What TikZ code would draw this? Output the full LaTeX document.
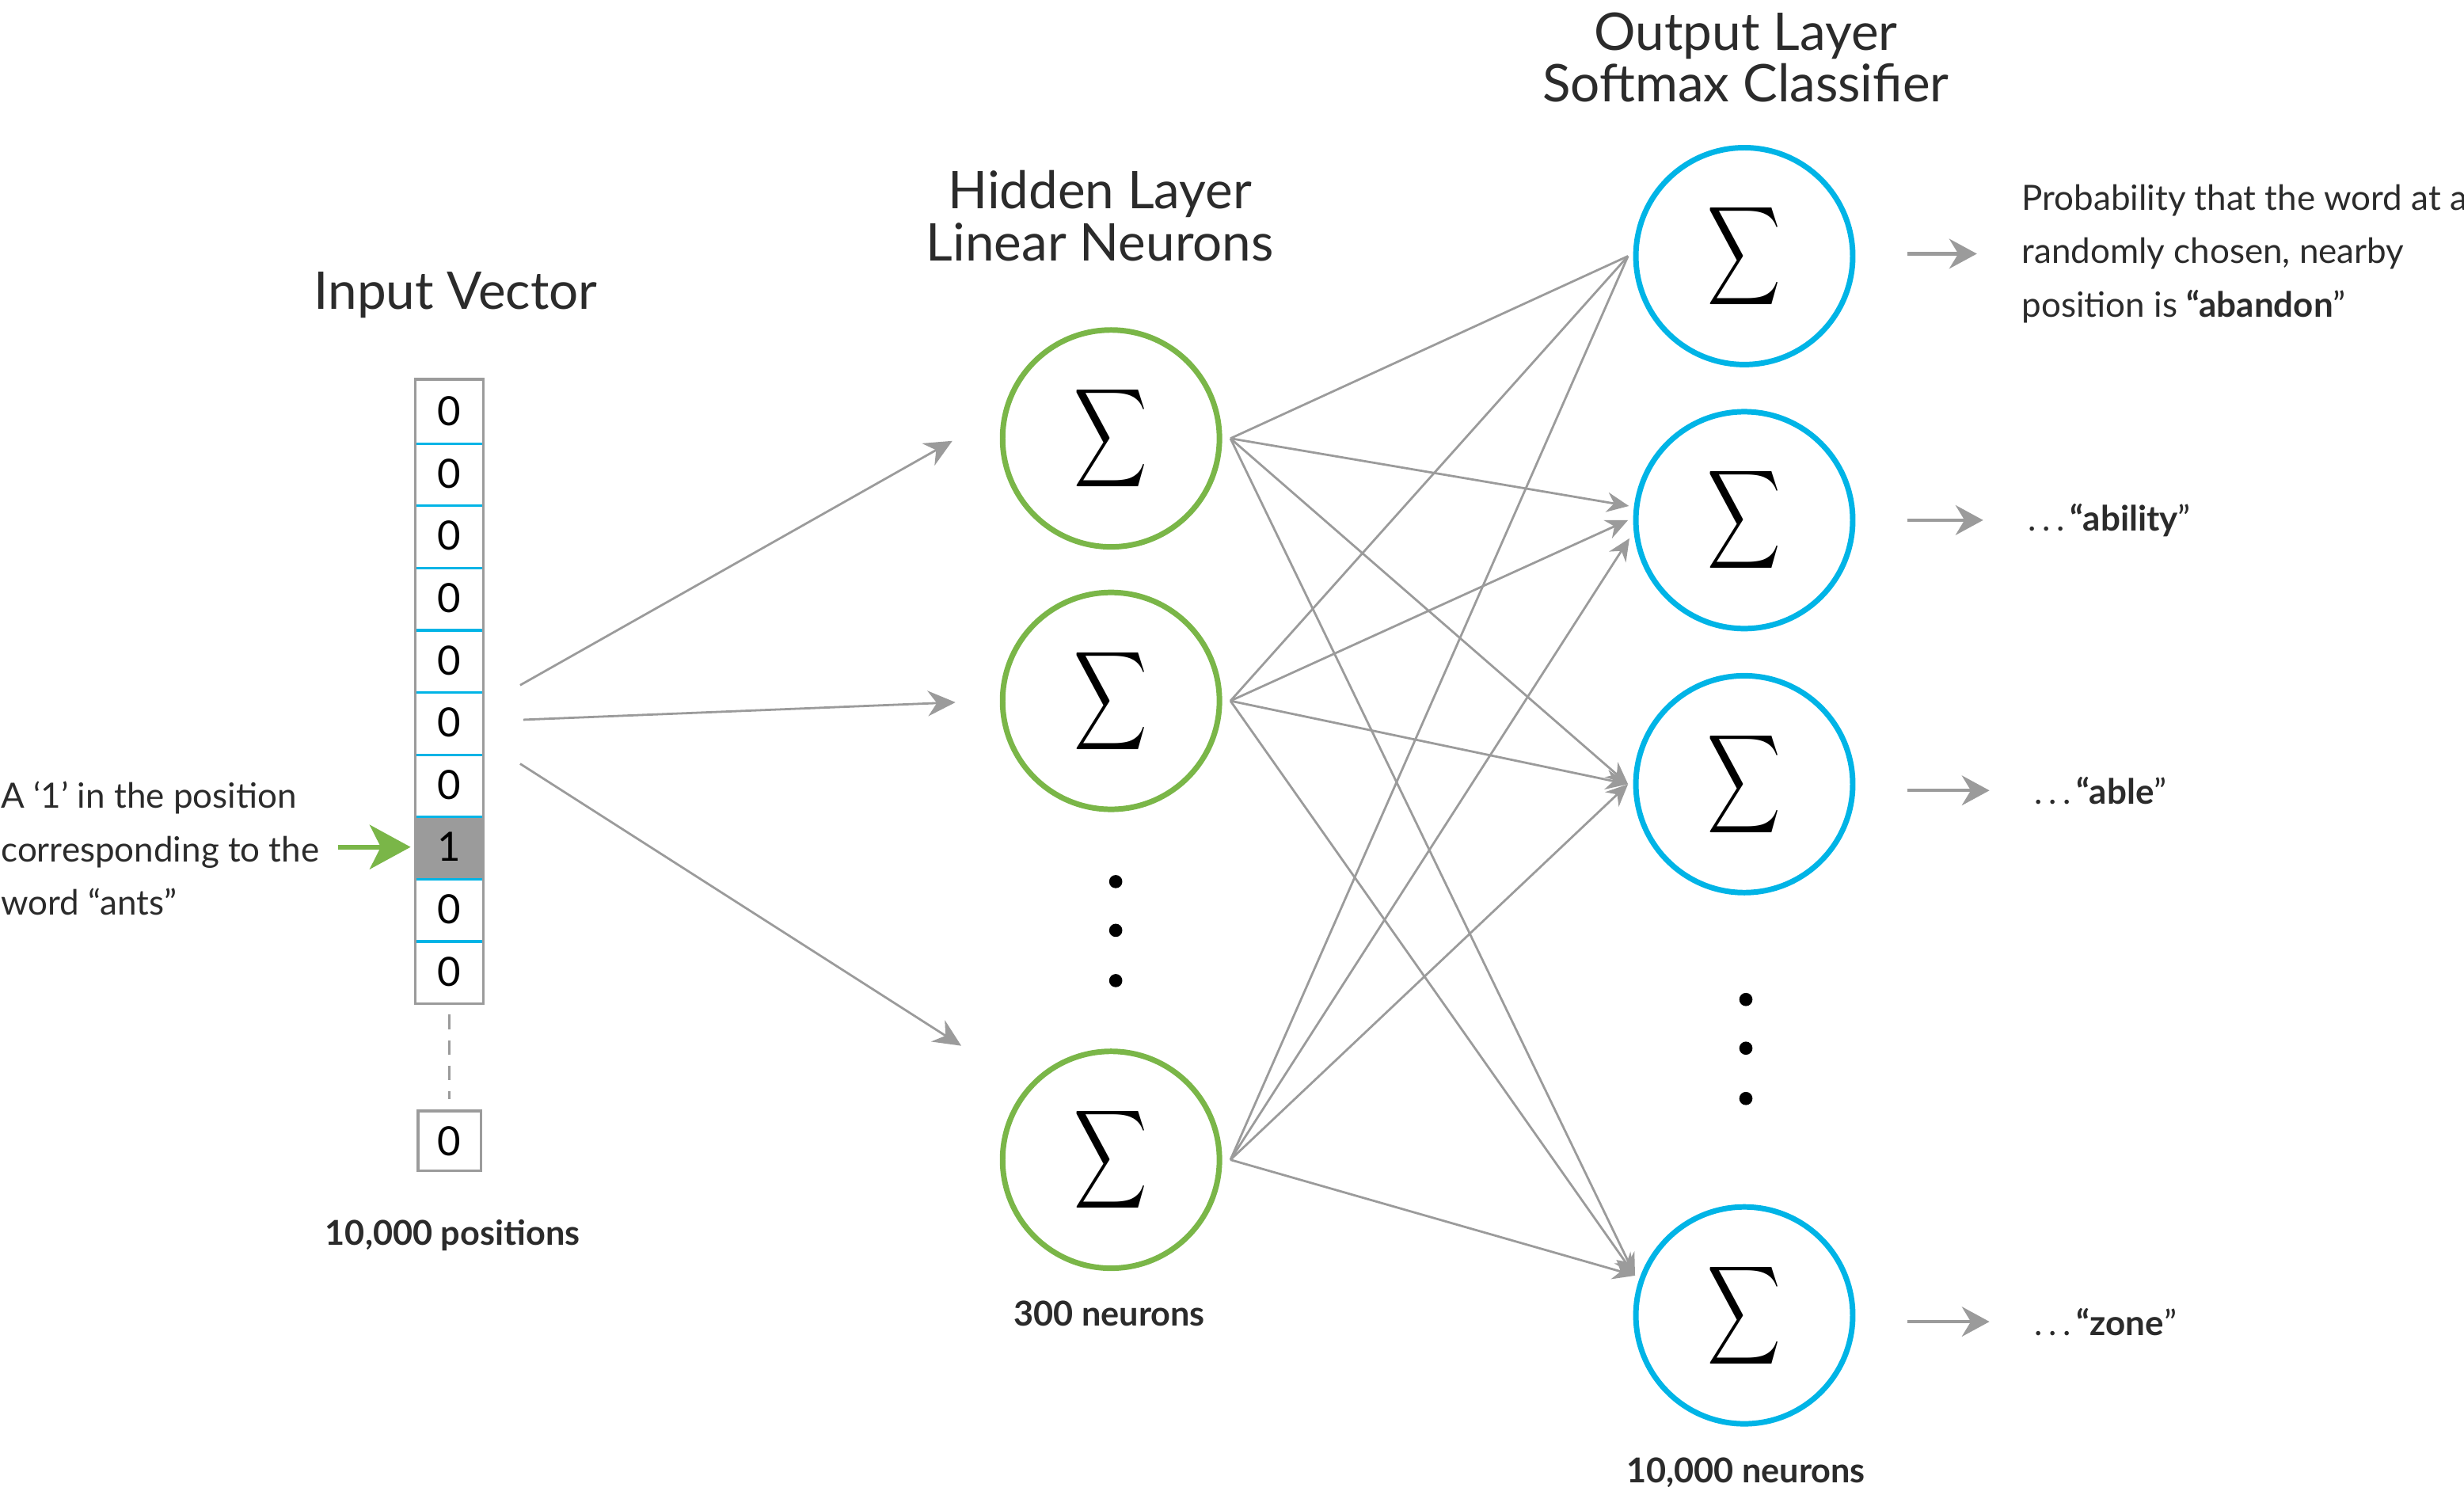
\documentclass[tikz,border=0pt]{standalone}
\usepackage{fontspec}
\setmainfont{Lato}
\usepackage{graphicx}
\usetikzlibrary{arrows.meta, positioning}
\definecolor{hiddengreen}{HTML}{7AB648}
\definecolor{outblue}{HTML}{00B4E6}
\definecolor{linegray}{HTML}{9B9B9B}
\definecolor{textgray}{HTML}{2B2B2B}
\newcommand{\sig}{\scalebox{0.92}[1.25]{$\displaystyle\sum$}}

\begin{document}
\begin{tikzpicture}[>={Stealth[length=4pt,width=3.6pt]},
    cell/.style={rectangle,minimum width=0.42cm,minimum height=0.396cm,inner sep=0pt,
        font=\fontsize{7.3}{7.3}\selectfont},
    hidden/.style={circle,draw=hiddengreen,line width=1pt,minimum size=1.38cm,
        inner sep=0pt,outer sep=0.07cm},
    output/.style={circle,draw=outblue,line width=1pt,minimum size=1.38cm,
        inner sep=0pt,outer sep=0.05cm},
    title/.style={align=center,text=textgray,font=\fontsize{9.4}{9.4}\selectfont},
    note/.style={align=left,text=textgray,inner sep=0pt,font=\fontsize{6.3}{9.7}\selectfont},
    count/.style={text=textgray,font=\fontsize{6.2}{6.2}\selectfont\bfseries},
    wire/.style={draw=linegray,line width=0.4pt},
    outarr/.style={draw=linegray,line width=0.6pt,-{Stealth[length=5pt,width=5.4pt]},
        shorten <=0.30cm,shorten >=0.28cm},
    pointer/.style={draw=hiddengreen,line width=0.9pt,
        -{Stealth[length=7.4pt,width=8pt,inset=2pt]},shorten <=0.11cm,shorten >=0.03cm}]
    \useasboundingbox (0,0) rectangle (15.68,9.51);

    % input vector
    \foreach \k/\v/\f in {1/0/white,2/0/white,3/0/white,4/0/white,5/0/white,
            6/0/white,7/0/white,8/1/linegray,9/0/white,10/0/white}
        \node[cell,fill=\f] (c\k) at (2.86,{7.288-0.396*\k}) {\v};
    \foreach \k in {1,...,9}
        \draw[outblue,line width=0.45pt] (c\k.south west) -- (c\k.south east);
    \draw[linegray,line width=0.5pt] (c1.north west) rectangle (c10.south east);
    \node[cell,draw=linegray,line width=0.5pt,minimum width=0.40cm,minimum height=0.38cm]
        (cn) at (2.86,2.25) {0};
    \draw[linegray,line width=0.5pt,dash pattern=on 2.6pt off 2pt,
        shorten <=0.07cm,shorten >=0.07cm] (c10.south) -- (cn.north);

    \node[title] (tin) at (2.90,7.63) {Input Vector};
    \node[count] (nin) at (2.88,1.65) {10,000 positions};
    \node[note,anchor=west] (ants) at (0,4.11)
        {A ‘1’ in the position\\corresponding to the\\word “ants”};
    \draw[pointer] (c8.west -| ants.east) -- (c8.west);

    % hidden layer
    \node[hidden] (h1) at (7.07,6.72) {\sig};
    \node[hidden] (h2) at (7.07,5.05) {\sig};
    \node[hidden] (h3) at (7.07,2.13) {\sig};
    \foreach \y in {3.90,3.59,3.27}
        \fill (7.10,\y) circle (0.042);
    \node[title] (thid) at (7.00,8.135) {Hidden Layer\\Linear Neurons};
    \node[count] (nhid) at (7.06,1.15) {300 neurons};

    % output layer
    \node[output] (o1) at (11.10,7.88) {\sig};
    \node[output] (o2) at (11.10,6.20) {\sig};
    \node[output] (o3) at (11.10,4.52) {\sig};
    \node[output] (o4) at (11.10,1.14) {\sig};
    \foreach \y in {3.15,2.84,2.52}
        \fill (11.11,\y) circle (0.042);
    \node[title] (tout) at (11.11,9.145) {Output Layer\\Softmax Classifier};
    \node[count] (nout) at (11.11,0.14) {10,000 neurons};

    % input -> hidden
    \coordinate (s1) at (3.31,5.15);
    \coordinate (s2) at (3.33,4.93);
    \coordinate (s3) at (3.31,4.65);
    \draw[wire,-{Stealth[length=5pt,width=4.6pt]},shorten >=0.30cm] (s1) -- (h1.170);
    \draw[wire,-{Stealth[length=5pt,width=4.6pt]},shorten >=0.23cm] (s2) -- (h2.west);
    \draw[wire,-{Stealth[length=5pt,width=4.6pt]},shorten >=0.44cm] (s3) -- (h3.140);

    % hidden -> output
    \foreach \h in {1,2,3} {
        \draw[wire] (h\h.east) -- (o1.west);
        \draw[wire,->] (h\h.east) -- (o3.west);
        \draw[wire,->] (h\h.east) -- (o4.160);
    }
    \draw[wire,->] (h1.east) -- (o2.173);
    \draw[wire,->] (h2.east) -- (o2.west);
    \draw[wire,->] (h3.east) -- (o2.189);

    % probabilities
    \node[note,anchor=west] (p1) at (12.86,7.895)
        {Probability that the word at a\\randomly chosen, nearby\\position is \textbf{“abandon}”};
    \node[note,anchor=west] (p2) at (12.90,6.20) {.\,.\,.\,\textbf{“ability}”};
    \node[note,anchor=west] (p3) at (12.94,4.48) {.\,.\,.\,\textbf{“able}”};
    \node[note,anchor=west] (p4) at (12.94,1.10) {.\,.\,.\,\textbf{“zone}”};
    \foreach \i in {1,...,4}
        \draw[outarr] (p\i.west -| o\i.east) -- (p\i.west);
\end{tikzpicture}
\end{document}
